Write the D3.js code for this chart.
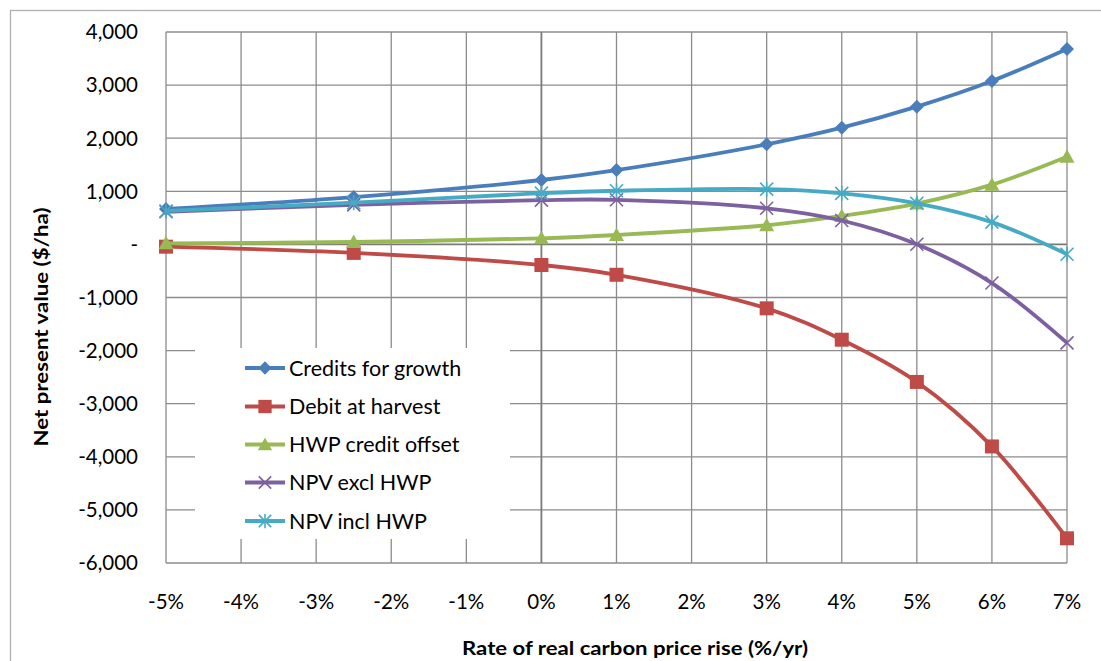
<!DOCTYPE html>
<html>
<head>
<meta charset="utf-8">
<script src="https://cdn.jsdelivr.net/npm/d3@7"></script>
<style>
  html, body { margin: 0; padding: 0; background: #fff; }
  svg { display: block; }
  text { font-family: Lato, "Open Sans", sans-serif; fill: #000; }
</style>
</head>
<body>
<svg id="chart" width="1101" height="661"></svg>
<script>
// ---- data ----
const rates = [-5, -2.5, 0, 1, 3, 4, 5, 6, 7];
const creditsForGrowth = [667, 892, 1213, 1400, 1885, 2198, 2594, 3077, 3680];
const debitAtHarvest   = [-43, -160, -388, -572, -1204, -1795, -2590, -3805, -5535];
const hwpCreditOffset  = [20, 45, 115, 177, 360, 535, 768, 1125, 1652];
const npvExclHwp       = [615, 745, 835, 840, 680, 450, 2, -728, -1855];
const npvInclHwp       = [630, 785, 965, 1010, 1040, 962, 774, 420, -185];
const seriesNames = ["Credits for growth", "Debit at harvest", "HWP credit offset", "NPV excl HWP", "NPV incl HWP"];
const seriesColors = ["#4a7ebb", "#be4b48", "#98b954", "#7d60a0", "#46aac5"];
const seriesMarkers = ["diamond", "square", "triangle", "x", "asterisk"];
const xTicks = [-5, -4, -3, -2, -1, 0, 1, 2, 3, 4, 5, 6, 7];
const yTicks = [-6000, -5000, -4000, -3000, -2000, -1000, 0, 1000, 2000, 3000, 4000];
const xTitle = "Rate of real carbon price rise (%/yr)";
const yTitle = "Net present value ($/ha)";

const seriesValues = [creditsForGrowth, debitAtHarvest, hwpCreditOffset, npvExclHwp, npvInclHwp];

// ---- layout ----
const svg = d3.select("#chart");
const L = 166, R = 1067, T = 32, B = 563;
const x = d3.scaleLinear().domain([-5, 7]).range([L, R]);
const y = d3.scaleLinear().domain([-6000, 4000]).range([B, T]);

// outer border
svg.append("rect").attr("x", 10.5).attr("y", 10.5).attr("width", 1100).attr("height", 700)
  .attr("fill", "none").attr("stroke", "#b0b0b0").attr("stroke-width", 1.3);

const gridColor = "#8c8c8c";
// horizontal grid
svg.append("g").selectAll("line").data(yTicks).join("line")
  .attr("x1", L).attr("x2", R)
  .attr("y1", d => y(d)).attr("y2", d => y(d))
  .attr("stroke", d => d === 0 ? "#7a7a7a" : gridColor)
  .attr("stroke-width", d => d === 0 ? 1.8 : 1.3);
// vertical grid
svg.append("g").selectAll("line").data(xTicks).join("line")
  .attr("y1", T).attr("y2", B)
  .attr("x1", d => x(d)).attr("x2", d => x(d))
  .attr("stroke", d => d === 0 ? "#7a7a7a" : gridColor)
  .attr("stroke-width", d => d === 0 ? 1.8 : 1.3);

// y tick labels
const fmtY = d => d === 0 ? "-" : (d < 0 ? "-" : "") + d3.format(",")(Math.abs(d));
svg.append("g").selectAll("text").data(yTicks).join("text")
  .attr("x", 138).attr("y", d => y(d)).attr("dy", "0.36em")
  .attr("text-anchor", "end").attr("font-size", 20.5)
  .text(fmtY);

// x tick labels
svg.append("g").selectAll("text").data(xTicks).join("text")
  .attr("x", d => x(d)).attr("y", 602).attr("dy", "0.36em")
  .attr("text-anchor", "middle").attr("font-size", 20.5)
  .text(d => (d < 0 ? "-" : "") + Math.abs(d) + "%");

// axis titles
svg.append("text").attr("x", 635).attr("y", 648).attr("dy", "0.36em")
  .attr("text-anchor", "middle").attr("font-size", 19.5).attr("font-weight", "bold")
  .attr("textLength", 346).attr("lengthAdjust", "spacingAndGlyphs")
  .text(xTitle);
svg.append("text").attr("transform", "translate(41,327) rotate(-90)").attr("dy", "0.36em")
  .attr("text-anchor", "middle").attr("font-size", 19.5).attr("font-weight", "bold")
  .attr("textLength", 239).attr("lengthAdjust", "spacingAndGlyphs")
  .text(yTitle);

// markers
function drawMarker(g, type, color, s) {
  s = s || 1;
  if (type === "diamond") {
    g.append("path").attr("d", `M0,${-7*s}L${7*s},0L0,${7*s}L${-7*s},0Z`).attr("fill", color);
  } else if (type === "square") {
    g.append("rect").attr("x", -7*s).attr("y", -7*s).attr("width", 14*s).attr("height", 14*s).attr("fill", color);
  } else if (type === "triangle") {
    g.append("path").attr("d", `M0,${-7.5*s}L${7.5*s},${6*s}L${-7.5*s},${6*s}Z`).attr("fill", color);
  } else if (type === "x") {
    g.append("path").attr("d", `M${-6.5*s},${-6.5*s}L${6.5*s},${6.5*s}M${6.5*s},${-6.5*s}L${-6.5*s},${6.5*s}`)
      .attr("stroke", color).attr("stroke-width", 1.6).attr("fill", "none");
  } else if (type === "asterisk") {
    g.append("path").attr("d", `M${-6.5*s},${-6.5*s}L${6.5*s},${6.5*s}M${6.5*s},${-6.5*s}L${-6.5*s},${6.5*s}M0,${-7.5*s}L0,${7.5*s}`)
      .attr("stroke", color).attr("stroke-width", 1.6).attr("fill", "none");
  }
}

const line = d3.line().x(d => x(d[0])).y(d => y(d[1])).curve(d3.curveCatmullRom.alpha(0.5));

seriesValues.forEach((vals, i) => {
  const pts = rates.map((r, j) => [r, vals[j]]);
  const g = svg.append("g");
  g.append("path").attr("d", line(pts)).attr("fill", "none")
    .attr("stroke", seriesColors[i]).attr("stroke-width", 3.8).attr("stroke-linejoin", "round");
  pts.forEach(p => {
    const m = g.append("g").attr("transform", `translate(${x(p[0])},${y(p[1])})`);
    drawMarker(m, seriesMarkers[i], seriesColors[i]);
  });
});

// legend
const lg = svg.append("g");
lg.append("rect").attr("x", 195).attr("y", 348).attr("width", 315).attr("height", 191).attr("fill", "#fff");
const rowY = [368, 406.5, 444.5, 482.5, 521];
seriesNames.forEach((name, i) => {
  const yy = rowY[i];
  lg.append("line").attr("x1", 245).attr("x2", 285).attr("y1", yy).attr("y2", yy)
    .attr("stroke", seriesColors[i]).attr("stroke-width", 3.8);
  const m = lg.append("g").attr("transform", `translate(265,${yy})`);
  drawMarker(m, seriesMarkers[i], seriesColors[i], 0.95);
  lg.append("text").attr("x", 289).attr("y", yy).attr("dy", "0.36em").attr("font-size", 21.5)
    .text(name);
});
</script>
</body>
</html>
